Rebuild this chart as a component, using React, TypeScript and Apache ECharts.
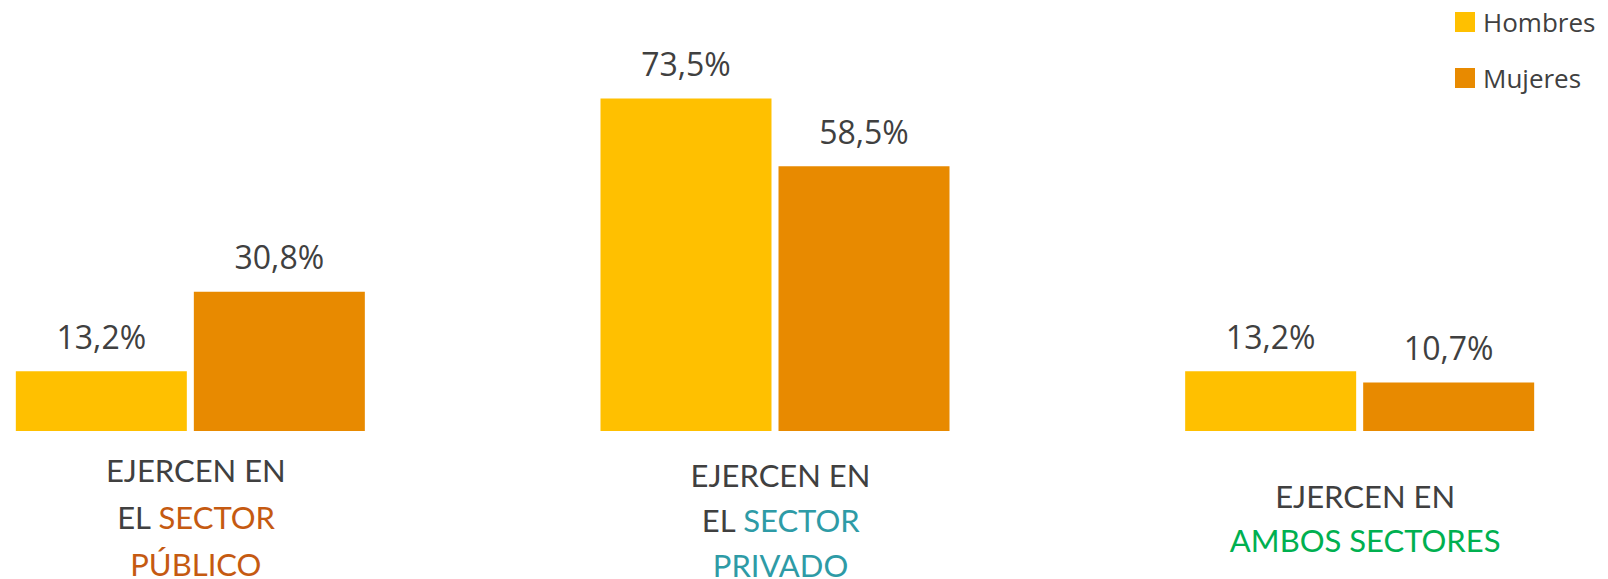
import React, { useEffect, useRef } from "react";
import * as echarts from "echarts";

const categories = ["EJERCEN EN EL SECTOR PÚBLICO", "EJERCEN EN EL SECTOR PRIVADO", "EJERCEN EN AMBOS SECTORES"];
// label lines: rich-text markup per category
const categoryLabels = [
  "{d|EJERCEN EN}\n{d|EL }{pub|SECTOR}\n{pub|PÚBLICO}",
  "{sp2| }\n{d2|EJERCEN EN}\n{d2|EL }{priv|SECTOR}\n{priv|PRIVADO}",
  "{sp3| }\n{d3|EJERCEN EN}\n{amb|AMBOS SECTORES}",
];
const seriesNames = ["Hombres", "Mujeres"];
const hombres = [13.2, 73.5, 13.2];
const mujeres = [30.8, 58.5, 10.7];

const fmt = (v: number) => v.toFixed(1).replace(".", ",") + "%";

export default function App() {
  const ref = useRef<HTMLDivElement>(null);
  useEffect(() => {
    if (!ref.current) return;
    const chart = echarts.init(ref.current, null, { renderer: "svg" });
    const base = { fontFamily: "Lato", fontSize: 31 };
    const richStyles = {
      d: { ...base, lineHeight: 47, color: "#404040" },
      pub: { ...base, lineHeight: 47, color: "#C55A11" },
      d2: { ...base, lineHeight: 45, color: "#404040" },
      priv: { ...base, lineHeight: 45, color: "#2E9BA6" },
      d3: { ...base, lineHeight: 44, color: "#404040" },
      amb: { ...base, lineHeight: 44, color: "#00B050" },
      sp2: { fontSize: 4, lineHeight: 6 },
      sp3: { fontSize: 4, lineHeight: 28 },
    };
    const valueLabel = {
      show: true,
      position: "top",
      distance: 19,
      color: "#404040",
      fontFamily: "Open Sans",
      fontSize: 32,
      lineHeight: 32,
      formatter: (p: any) => fmt(p.value),
    };
    chart.setOption({
      animation: false,
      backgroundColor: "#ffffff",
      legend: {
        orient: "vertical",
        left: 1455,
        top: 9,
        padding: 0,
        itemWidth: 20,
        itemHeight: 20,
        itemGap: 30,
        icon: "rect",
        data: seriesNames,
        textStyle: {
          color: "#404040",
          fontFamily: "Open Sans",
          fontSize: 26,
          lineHeight: 25,
          padding: [0, 0, 0, 3],
        },
      },
      grid: {
        left: -102,
        width: 1754,
        top: 69,
        bottom: 148,
        containLabel: false,
        outerBoundsMode: "none",
      },
      xAxis: {
        type: "category",
        data: categories,
        axisLine: { show: false },
        axisTick: { show: false },
        axisLabel: {
          interval: 0,
          margin: 15,
          align: "center",
          padding: [0, 0, 0, 11],
          formatter: (_v: string, i: number) => categoryLabels[i],
          rich: richStyles,
        },
      },
      yAxis: { type: "value", min: 0, max: 80, show: false, splitLine: { show: false } },
      series: [
        {
          name: seriesNames[0],
          type: "bar",
          data: hombres,
          barWidth: 171,
          barGap: "4.1%",
          itemStyle: { color: "#FFC000" },
          label: valueLabel,
        },
        {
          name: seriesNames[1],
          type: "bar",
          data: mujeres,
          barWidth: 171,
          itemStyle: { color: "#E88A00" },
          label: valueLabel,
        },
      ],
    });
    return () => chart.dispose();
  }, []);
  return (
    <div
      ref={ref}
      style={{ position: "fixed", left: 0, top: 0, width: 1608, height: 579, background: "#fff" }}
    />
  );
}
